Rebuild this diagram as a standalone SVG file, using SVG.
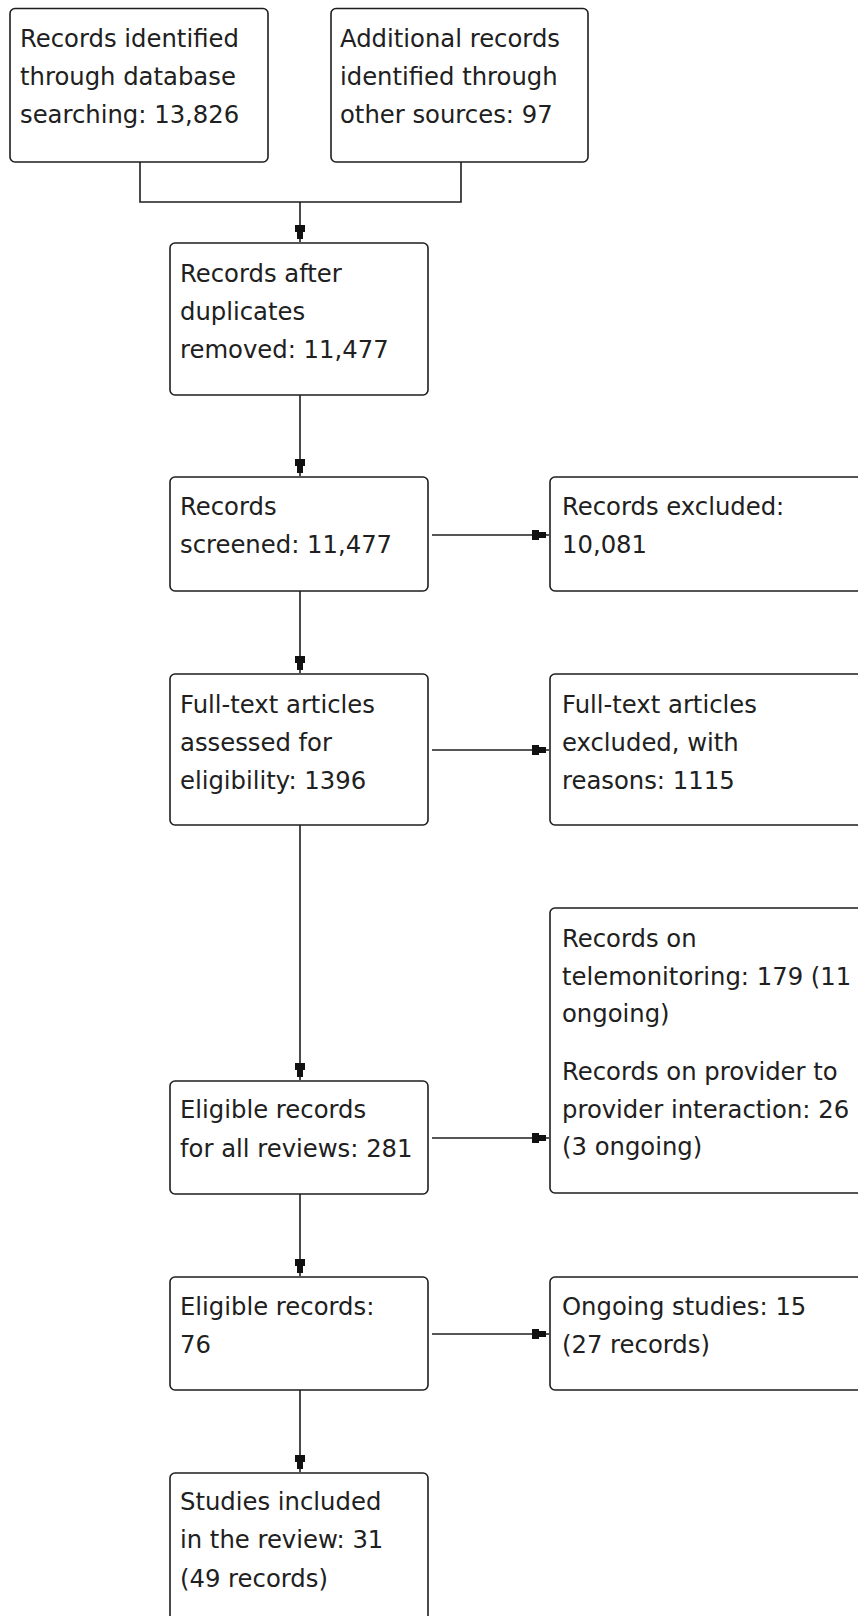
<svg xmlns="http://www.w3.org/2000/svg" width="858" height="1616" viewBox="0 0 858 1616">
  <style>
    .box { fill: #ffffff; stroke: #1e1e1e; stroke-width: 1.6; }
    .lbl { font-family: "DejaVu Sans", "Liberation Sans", sans-serif; font-size: 24.3px; fill: #202020; }
    .edge { fill: none; stroke: #1e1e1e; stroke-width: 1.6; }
  </style>
  <defs>
    <marker id="head" markerUnits="userSpaceOnUse" markerWidth="20" markerHeight="12" viewBox="-18 -6 18 12" refX="0" refY="0" orient="auto">
      <polygon points="-17,-5 -10,-5 -10,-3 -3,-3 -3,3 -10,3 -10,5 -17,5" fill="#111111"/>
    </marker>
  </defs>
  <rect width="858" height="1616" fill="#ffffff"/>

  <!-- connectors -->
  <g id="connectors">
    <path class="edge" d="M140,162 V202 H461 V162"/>
    <path class="edge" d="M300,202 V242" marker-end="url(#head)"/>
    <path class="edge" d="M300,395 V476" marker-end="url(#head)"/>
    <path class="edge" d="M300,591 V673" marker-end="url(#head)"/>
    <path class="edge" d="M300,825 V1080" marker-end="url(#head)"/>
    <path class="edge" d="M300,1194 V1276" marker-end="url(#head)"/>
    <path class="edge" d="M300,1390 V1472" marker-end="url(#head)"/>
    <path class="edge" d="M432,535 H549" marker-end="url(#head)"/>
    <path class="edge" d="M432,750 H549" marker-end="url(#head)"/>
    <path class="edge" d="M432,1138 H549" marker-end="url(#head)"/>
    <path class="edge" d="M432,1334 H549" marker-end="url(#head)"/>
  </g>

  <!-- identification -->
  <g id="n-database">
    <rect class="box" x="10" y="8.5" width="258" height="153.5" rx="5"/>
    <text class="lbl" x="20" y="47">Records identified</text>
    <text class="lbl" x="20" y="85">through database</text>
    <text class="lbl" x="20" y="123">searching: 13,826</text>
  </g>
  <g id="n-other">
    <rect class="box" x="331" y="8.5" width="257" height="153.5" rx="5"/>
    <text class="lbl" x="340" y="47">Additional records</text>
    <text class="lbl" x="340" y="85">identified through</text>
    <text class="lbl" x="340" y="123">other sources: 97</text>
  </g>

  <!-- main column -->
  <g id="n-dedup">
    <rect class="box" x="170" y="243" width="258" height="152" rx="5"/>
    <text class="lbl" x="180" y="282">Records after</text>
    <text class="lbl" x="180" y="320">duplicates</text>
    <text class="lbl" x="180" y="358">removed: 11,477</text>
  </g>
  <g id="n-screened">
    <rect class="box" x="170" y="477" width="258" height="114" rx="5"/>
    <text class="lbl" x="180" y="515">Records</text>
    <text class="lbl" x="180" y="553">screened: 11,477</text>
  </g>
  <g id="n-fulltext">
    <rect class="box" x="170" y="674" width="258" height="151" rx="5"/>
    <text class="lbl" x="180" y="713">Full-text articles</text>
    <text class="lbl" x="180" y="751">assessed for</text>
    <text class="lbl" x="180" y="789">eligibility: 1396</text>
  </g>
  <g id="n-eligible-all">
    <rect class="box" x="170" y="1081" width="258" height="113" rx="5"/>
    <text class="lbl" x="180" y="1118">Eligible records</text>
    <text class="lbl" x="180" y="1157">for all reviews: 281</text>
  </g>
  <g id="n-eligible">
    <rect class="box" x="170" y="1277" width="258" height="113" rx="5"/>
    <text class="lbl" x="180" y="1315">Eligible records:</text>
    <text class="lbl" x="180" y="1353">76</text>
  </g>
  <g id="n-included">
    <rect class="box" x="170" y="1473" width="258" height="160" rx="5"/>
    <text class="lbl" x="180" y="1510">Studies included</text>
    <text class="lbl" x="180" y="1548">in the review: 31</text>
    <text class="lbl" x="180" y="1587">(49 records)</text>
  </g>

  <!-- side column -->
  <g id="n-excluded">
    <rect class="box" x="550" y="477" width="330" height="114" rx="5"/>
    <text class="lbl" x="562" y="515">Records excluded:</text>
    <text class="lbl" x="562" y="553">10,081</text>
  </g>
  <g id="n-ft-excluded">
    <rect class="box" x="550" y="674" width="330" height="151" rx="5"/>
    <text class="lbl" x="562" y="713">Full-text articles</text>
    <text class="lbl" x="562" y="751">excluded, with</text>
    <text class="lbl" x="562" y="789">reasons: 1115</text>
  </g>
  <g id="n-other-reviews">
    <rect class="box" x="550" y="908" width="330" height="285" rx="5"/>
    <text class="lbl" x="562" y="947">Records on</text>
    <text class="lbl" x="562" y="985">telemonitoring: 179 (11</text>
    <text class="lbl" x="562" y="1022">ongoing)</text>
    <text class="lbl" x="562" y="1080">Records on provider to</text>
    <text class="lbl" x="562" y="1118">provider interaction: 26</text>
    <text class="lbl" x="562" y="1155">(3 ongoing)</text>
  </g>
  <g id="n-ongoing">
    <rect class="box" x="550" y="1277" width="330" height="113" rx="5"/>
    <text class="lbl" x="562" y="1315">Ongoing studies: 15</text>
    <text class="lbl" x="562" y="1353">(27 records)</text>
  </g>
</svg>
